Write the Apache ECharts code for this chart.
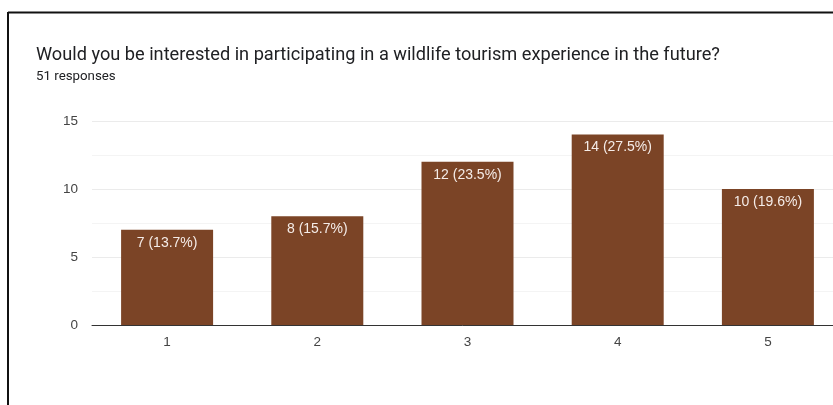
<!DOCTYPE html>
<html>
<head>
<meta charset="utf-8">
<script src="https://cdn.jsdelivr.net/npm/echarts@6/dist/echarts.min.js"></script>
<style>
  html, body { margin: 0; padding: 0; background: #fff; }
  #chart { width: 833px; height: 405px; }
</style>
</head>
<body>
<div id="chart"></div>
<script>
// Survey answers on a 1–5 scale and how many respondents picked each
const categories = ['1', '2', '3', '4', '5'];
const counts = [7, 8, 12, 14, 10];
const percents = [13.7, 15.7, 23.5, 27.5, 19.6];
const yTicks = [0, 5, 10, 15];

const titleText = 'Would you be interested in participating in a wildlife tourism experience in the future?';
const subtitleText = '51 responses';

const chart = echarts.init(document.getElementById('chart'), null, { renderer: 'canvas' });

chart.setOption({
  animation: false,
  backgroundColor: '#ffffff',
  graphic: [
    // card frame: top and left edges
    { type: 'line', shape: { x1: 8, y1: 12.5, x2: 833, y2: 12.5 }, style: { stroke: '#111', lineWidth: 2 } },
    { type: 'line', shape: { x1: 8, y1: 12, x2: 8, y2: 405 }, style: { stroke: '#111', lineWidth: 2 } }
  ],
  title: {
    text: titleText,
    subtext: subtitleText,
    left: 31,
    top: 41,
    itemGap: 6,
    textStyle: { fontFamily: 'Roboto', fontSize: 18.2, fontWeight: 'normal', color: '#202124' },
    subtextStyle: { fontFamily: 'Roboto', fontSize: 13.3, color: '#202124' }
  },
  // plot area runs past the right edge of the canvas
  grid: { left: 92, width: 751, top: 121, height: 204, containLabel: false, outerBoundsMode: 'none' },
  xAxis: {
    type: 'category',
    data: categories,
    axisLine: { show: true, lineStyle: { color: '#333', width: 1 } },
    axisTick: { show: false },
    axisLabel: { fontFamily: 'Liberation Sans', fontSize: 13.5, color: '#444', margin: 10 }
  },
  yAxis: {
    type: 'value',
    min: yTicks[0],
    max: yTicks[yTicks.length - 1],
    interval: yTicks[1] - yTicks[0],
    axisLine: { show: false },
    axisTick: { show: false },
    axisLabel: { fontFamily: 'Liberation Sans', fontSize: 13.5, color: '#444', margin: 14 },
    splitLine: { show: true, lineStyle: { color: '#ebebeb', width: 1 } },
    minorTick: { show: false, splitNumber: 2 },
    minorSplitLine: { show: true, lineStyle: { color: '#f4f4f4', width: 1 } }
  },
  series: [{
    type: 'bar',
    data: counts,
    barWidth: 92,
    itemStyle: { color: '#7b4426' },
    label: {
      show: true,
      position: 'insideTop',
      distance: 6,
      fontFamily: 'Liberation Sans',
      fontSize: 14,
      color: '#f5ece8',
      formatter: p => counts[p.dataIndex] + ' (' + percents[p.dataIndex] + '%)'
    }
  }]
});
</script>
</body>
</html>
